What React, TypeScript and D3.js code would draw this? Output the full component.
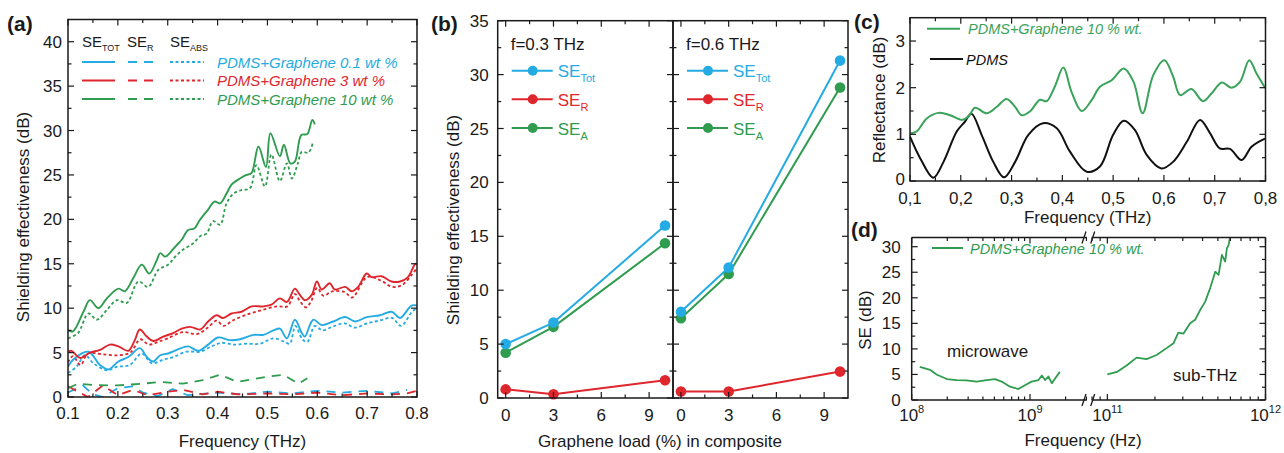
import React, { useEffect, useRef } from "react";
import * as d3 from "d3";

const W = 1284;
const H = 453;
const FONT = "'Liberation Sans', Arial, sans-serif";
const BLUE = "#25abe3";
const RED = "#e0262d";
const GREEN = "#2f9c4f";
const INK = "#1a1a1a";

// ---- panel (a): SE vs frequency (THz), [f, dB]
const aBlueTot = [[0.1,3.4],[0.11,4.2],[0.141,5.1],[0.164,3.6],[0.181,3.1],[0.201,4.0],[0.221,4.5],[0.244,5.5],[0.258,4.5],[0.271,4.0],[0.285,4.7],[0.301,4.9],[0.318,5.3],[0.341,5.7],[0.361,5.2],[0.381,5.9],[0.401,6.7],[0.425,6.4],[0.445,6.5],[0.472,7.0],[0.492,7.0],[0.512,7.5],[0.525,7.7],[0.539,6.6],[0.555,8.7],[0.569,7.2],[0.575,6.8],[0.592,8.7],[0.609,8.1],[0.632,8.5],[0.656,9.0],[0.676,8.5],[0.699,9.0],[0.726,9.2],[0.749,9.6],[0.766,8.9],[0.789,10.3],[0.8,10.3]];
const aBlueR = [[0.1,0.5],[0.13,1.3],[0.15,0.3],[0.17,0.0],[0.2,1.0],[0.23,1.2],[0.25,0.5],[0.28,0.1],[0.31,0.9],[0.34,0.2],[0.4,0.5],[0.45,0.3],[0.5,0.6],[0.55,0.4],[0.6,0.7],[0.65,0.5],[0.7,0.7],[0.75,0.4],[0.78,0.8]];
const aBlueAbs = [[0.1,2.7],[0.117,3.4],[0.134,4.7],[0.151,3.8],[0.178,3.0],[0.198,3.4],[0.224,3.6],[0.248,4.9],[0.268,3.8],[0.291,4.2],[0.311,4.5],[0.338,5.1],[0.365,5.1],[0.388,5.7],[0.408,6.1],[0.432,5.9],[0.458,6.0],[0.485,6.0],[0.512,6.6],[0.535,6.2],[0.545,6.0],[0.556,8.0],[0.57,6.5],[0.58,6.2],[0.595,8.0],[0.61,7.5],[0.63,7.9],[0.655,8.3],[0.675,7.8],[0.7,8.3],[0.725,8.6],[0.75,8.9],[0.768,8.0],[0.79,9.6],[0.8,10.0]];

const aRedTot = [[0.1,5.1],[0.107,5.2],[0.124,4.4],[0.144,5.0],[0.164,5.3],[0.184,5.9],[0.201,5.7],[0.221,5.2],[0.234,6.4],[0.244,7.6],[0.258,6.8],[0.271,6.3],[0.291,6.8],[0.311,7.2],[0.328,7.7],[0.345,7.9],[0.365,7.6],[0.381,8.5],[0.398,9.2],[0.411,8.9],[0.428,9.4],[0.448,9.6],[0.468,10.2],[0.492,10.2],[0.508,10.4],[0.525,11.1],[0.539,10.7],[0.555,12.2],[0.565,11.5],[0.575,10.9],[0.589,11.5],[0.599,13.0],[0.609,12.1],[0.625,12.8],[0.635,12.1],[0.656,12.4],[0.669,11.9],[0.682,12.4],[0.699,13.9],[0.709,13.5],[0.729,13.6],[0.749,13.0],[0.766,13.0],[0.782,13.5],[0.797,15.0],[0.8,14.9]];
const aRedR = [[0.1,1.2],[0.12,0.6],[0.14,0.0],[0.17,1.3],[0.2,0.2],[0.23,0.8],[0.26,0.2],[0.3,0.6],[0.33,0.8],[0.37,0.3],[0.4,0.6],[0.44,0.3],[0.5,0.4],[0.55,0.3],[0.6,0.5],[0.65,0.2],[0.7,0.4],[0.75,0.3],[0.78,0.4],[0.8,0.7]];
const aRedAbs = [[0.1,3.9],[0.11,4.6],[0.125,3.6],[0.14,4.9],[0.17,4.8],[0.2,4.7],[0.225,5.0],[0.245,6.5],[0.262,5.9],[0.28,6.2],[0.3,6.6],[0.33,7.3],[0.36,7.1],[0.38,7.8],[0.398,8.6],[0.412,8.0],[0.43,8.6],[0.46,9.3],[0.49,9.8],[0.52,10.2],[0.54,10.2],[0.555,11.6],[0.565,10.8],[0.577,10.1],[0.587,10.7],[0.6,12.3],[0.612,11.4],[0.63,11.9],[0.655,11.8],[0.67,11.2],[0.7,13.5],[0.728,13.1],[0.75,12.4],[0.77,12.6],[0.79,13.8],[0.8,14.5]];

const aGreenTot = [[0.1,7.5],[0.11,7.4],[0.131,9.6],[0.144,10.9],[0.161,10.0],[0.178,11.1],[0.201,12.2],[0.214,11.9],[0.231,13.4],[0.248,14.9],[0.263,13.9],[0.278,15.4],[0.285,16.2],[0.295,15.8],[0.304,16.2],[0.318,17.1],[0.328,17.7],[0.341,18.8],[0.354,19.0],[0.364,19.9],[0.381,21.1],[0.394,22.0],[0.405,21.8],[0.418,22.9],[0.428,23.9],[0.445,24.6],[0.458,25.0],[0.468,25.2],[0.482,28.2],[0.497,25.9],[0.506,29.7],[0.525,27.1],[0.533,28.4],[0.546,26.3],[0.555,26.5],[0.568,29.5],[0.58,29.6],[0.59,31.2],[0.595,30.7]];
const aGreenR = [[0.1,1.0],[0.12,1.5],[0.15,1.35],[0.2,1.3],[0.25,1.5],[0.285,1.7],[0.33,1.5],[0.37,1.9],[0.405,2.5],[0.44,1.7],[0.5,2.3],[0.532,2.5],[0.562,1.5],[0.58,2.1]];
const aGreenAbs = [[0.1,6.6],[0.12,7.2],[0.141,9.4],[0.158,8.7],[0.178,9.8],[0.198,10.9],[0.218,10.6],[0.241,13.0],[0.261,12.4],[0.281,14.3],[0.301,14.9],[0.315,15.8],[0.331,16.6],[0.351,17.3],[0.365,18.1],[0.378,18.4],[0.391,19.8],[0.405,19.4],[0.418,21.8],[0.432,22.9],[0.448,23.3],[0.465,23.5],[0.478,26.1],[0.495,23.7],[0.508,27.3],[0.525,24.3],[0.539,26.3],[0.549,24.6],[0.561,26.3],[0.569,27.6],[0.582,27.5],[0.592,28.8]];

const aLegend = ["PDMS+Graphene 0.1 wt %", "PDMS+Graphene 3 wt %", "PDMS+Graphene 10 wt %"];

// ---- panel (b): SE at fixed frequency vs graphene load
const loads = [0, 3, 10];
const b03Tot = [5.0, 7.0, 16.0];
const b03R = [0.8, 0.35, 1.65];
const b03A = [4.2, 6.6, 14.35];
const b06Tot = [8.0, 12.1, 31.3];
const b06R = [0.6, 0.6, 2.45];
const b06A = [7.4, 11.5, 28.8];

// ---- panel (c): reflectance
const cGraphene = [[0.1,1.02],[0.113,1.06],[0.133,1.34],[0.156,1.46],[0.179,1.41],[0.202,1.31],[0.215,1.38],[0.228,1.57],[0.251,1.45],[0.271,1.59],[0.29,1.76],[0.307,1.59],[0.32,1.41],[0.336,1.49],[0.356,1.74],[0.369,1.71],[0.385,2.02],[0.402,2.43],[0.418,1.91],[0.438,1.5],[0.458,1.74],[0.474,2.02],[0.497,2.16],[0.521,2.41],[0.54,2.13],[0.558,1.45],[0.579,2.27],[0.601,2.59],[0.618,2.24],[0.632,1.84],[0.654,1.97],[0.677,1.71],[0.694,1.88],[0.714,2.11],[0.733,2.0],[0.75,2.13],[0.768,2.59],[0.782,2.31],[0.799,2.0]];
const cPdms = [[0.1,0.95],[0.12,0.49],[0.146,0.07],[0.166,0.41],[0.192,1.06],[0.208,1.27],[0.221,1.44],[0.241,0.99],[0.264,0.41],[0.285,0.08],[0.307,0.41],[0.333,0.99],[0.362,1.24],[0.389,1.13],[0.415,0.63],[0.448,0.2],[0.474,0.31],[0.5,0.99],[0.521,1.29],[0.543,1.09],[0.566,0.56],[0.595,0.27],[0.618,0.41],[0.645,0.84],[0.671,1.31],[0.691,1.02],[0.71,0.7],[0.73,0.69],[0.753,0.45],[0.773,0.74],[0.799,0.91]];

// ---- panel (d): SE over microwave and sub-THz (Hz, dB)
const dMicrowave = [[1.17e8,6.5],[1.43e8,5.9],[1.62e8,5.0],[1.98e8,4.1],[2.4e8,3.9],[2.9e8,3.85],[3.54e8,3.6],[4.3e8,3.9],[5.06e8,4.1],[5.76e8,3.6],[6.78e8,2.6],[7.97e8,2.15],[9.07e8,2.9],[1.03e9,3.6],[1.18e9,3.9],[1.26e9,4.8],[1.34e9,3.9],[1.43e9,4.6],[1.53e9,3.3],[1.63e9,4.2],[1.79e9,5.5]];
const dSubTHz = [[1e11,5.0],[1.15e11,5.5],[1.33e11,6.8],[1.53e11,8.3],[1.77e11,8.0],[2.05e11,8.8],[2.38e11,10.2],[2.62e11,11.1],[2.81e11,13.2],[3.03e11,13.0],[3.34e11,15.0],[3.59e11,15.7],[3.86e11,17.6],[4.15e11,19.2],[4.47e11,21.9],[4.81e11,25.1],[5.05e11,24.5],[5.3e11,28.4],[5.56e11,27.1],[5.7e11,29.7],[5.84e11,30.3],[5.98e11,32.0]];

type Box = { l: number; r: number; t: number; b: number };

const App = () => {
  const ref = useRef<SVGSVGElement>(null);

  useEffect(() => {
    drawChart();
  }, []);

  const drawChart = () => {
    const svg = d3.select(ref.current);
    svg.selectAll("*").remove();
    svg.style("font-family", FONT);

    const seg = (g: any, x1: number, y1: number, x2: number, y2: number, w = 1.3) =>
      g.append("line").attr("x1", x1).attr("y1", y1).attr("x2", x2).attr("y2", y2)
        .attr("stroke", INK).attr("stroke-width", w);

    const text = (g: any, x: number, y: number, s: string, size = 17, anchor = "start") =>
      g.append("text").attr("x", x).attr("y", y).attr("font-size", size)
        .attr("text-anchor", anchor).attr("fill", INK).text(s);

    // inward ticks on all four sides
    const ticks = (g: any, box: Box, xs: number[], ys: number[], len: number) => {
      xs.forEach((px) => { seg(g, px, box.b, px, box.b - len, 1.2); seg(g, px, box.t, px, box.t + len, 1.2); });
      ys.forEach((py) => { seg(g, box.l, py, box.l + len, py, 1.2); seg(g, box.r, py, box.r - len, py, 1.2); });
    };

    const frame = (g: any, box: Box) =>
      g.append("rect").attr("x", box.l).attr("y", box.t).attr("width", box.r - box.l)
        .attr("height", box.b - box.t).attr("fill", "none").attr("stroke", INK).attr("stroke-width", 1.5);

    const yTitle = (g: any, x: number, y: number, s: string, size = 17) =>
      g.append("text").attr("transform", `translate(${x},${y}) rotate(-90)`)
        .attr("text-anchor", "middle").attr("font-size", size).attr("fill", INK).text(s);

    const panelTag = (x: number, y: number, s: string) =>
      svg.append("text").attr("x", x).attr("y", y).attr("font-size", 21)
        .attr("font-weight", "bold").attr("fill", INK).text(s);

    const curve = (g: any, x: any, y: any, pts: number[][], color: string, dash: string | null, width = 1.8, smooth = true) => {
      const line = d3.line<number[]>().x((d) => x(d[0])).y((d) => y(d[1]));
      if (smooth) line.curve(d3.curveCatmullRom.alpha(0.5));
      g.append("path").attr("d", line(pts)).attr("fill", "none").attr("stroke", color)
        .attr("stroke-width", width).attr("stroke-dasharray", dash).attr("stroke-linejoin", "round");
    };

    // ================= (a)
    {
      const box = { l: 68, r: 417, t: 19.5, b: 397 };
      const x = d3.scaleLinear().domain([0.1, 0.8]).range([box.l, box.r]);
      const y = d3.scaleLinear().domain([0, 42.5]).range([box.b, box.t]);
      const g = svg.append("g");
      const clipId = "clipA";
      svg.append("clipPath").attr("id", clipId).append("rect")
        .attr("x", box.l).attr("y", box.t).attr("width", box.r - box.l).attr("height", box.b - box.t);
      const data = g.append("g").attr("clip-path", `url(#${clipId})`);

      const dashR = "9,7";
      const dotA = "3,2.5";
      [[aBlueR, BLUE], [aRedR, RED], [aGreenR, GREEN]].forEach(([pts, c]: any) => curve(data, x, y, pts, c, dashR, 1.8, false));
      [[aBlueAbs, BLUE], [aRedAbs, RED], [aGreenAbs, GREEN]].forEach(([pts, c]: any) => curve(data, x, y, pts, c, dotA, 1.8));
      [[aBlueTot, BLUE], [aRedTot, RED], [aGreenTot, GREEN]].forEach(([pts, c]: any) => curve(data, x, y, pts, c, null, 1.9));

      frame(g, box);
      const xMaj = d3.range(0.1, 0.8001, 0.1);
      const xMin = d3.range(0.15, 0.8, 0.1);
      const yMaj = d3.range(0, 41, 5);
      const yMin = d3.range(2.5, 42.5, 5);
      ticks(g, box, xMaj.map(x), yMaj.map(y), 6);
      ticks(g, box, xMin.map(x), yMin.map(y), 3.5);
      xMaj.forEach((v) => text(g, x(v), box.b + 22, d3.format(".1f")(v), 17, "middle"));
      yMaj.forEach((v) => text(g, box.l - 6, y(v) + 6, String(v), 17, "end"));
      text(g, (box.l + box.r) / 2, 447, "Frequency (THz)", 17, "middle");
      yTitle(g, 29, 217, "Shielding effectiveness (dB)");

      // legend
      const head = [["SE", "TOT", 82], ["SE", "R", 127], ["SE", "ABS", 170]];
      head.forEach(([a, b, px]: any) => {
        const t = g.append("text").attr("x", px).attr("y", 47).attr("font-size", 15).attr("fill", INK);
        t.append("tspan").text(a);
        t.append("tspan").attr("font-size", 9).attr("dy", 4).text(b);
      });
      const legendCols = [BLUE, RED, GREEN];
      legendCols.forEach((c, i) => {
        const ly = 62 + i * 18.5;
        seg(g, 82, ly, 115, ly, 1.9).attr("stroke", c);
        seg(g, 128, ly, 155, ly, 1.8).attr("stroke", c).attr("stroke-dasharray", dashR);
        seg(g, 170, ly, 204, ly, 1.8).attr("stroke", c).attr("stroke-dasharray", dotA);
        g.append("text").attr("x", 217).attr("y", ly + 5.5).attr("font-size", 15)
          .attr("font-style", "italic").attr("fill", c).text(aLegend[i]);
      });
    }
    panelTag(7, 31, "(a)");

    // ================= (b)
    {
      const g = svg.append("g");
      const y = d3.scaleLinear().domain([0, 35]).range([398, 20.7]);
      const sub = [
        { box: { l: 497.7, r: 673, t: 20.7, b: 398 }, f: "f=0.3 THz", tot: b03Tot, r: b03R, a: b03A },
        { box: { l: 673, r: 848, t: 20.7, b: 398 }, f: "f=0.6 THz", tot: b06Tot, r: b06R, a: b06A },
      ];
      sub.forEach((s, k) => {
        const box = s.box;
        const x = d3.scaleLinear().domain([-0.5, 10.5]).range([box.l, box.r]);
        const series: [number[], string][] = [[s.r, RED], [s.a, GREEN], [s.tot, BLUE]];
        series.forEach(([vals, c]) => {
          const pts = loads.map((l, i) => [l, vals[i]]);
          curve(g, x, y, pts, c, null, 2, false);
          g.selectAll(null).data(pts).enter().append("circle")
            .attr("cx", (d: number[]) => x(d[0])).attr("cy", (d: number[]) => y(d[1]))
            .attr("r", 5.3).attr("fill", c);
        });
        frame(g, box);
        const xMaj = [0, 3, 6, 9];
        const xMin = [1.5, 4.5, 7.5];
        ticks(g, box, xMaj.map(x), d3.range(0, 36, 5).map(y), 6);
        ticks(g, box, xMin.map(x), d3.range(2.5, 35, 5).map(y), 3.5);
        xMaj.forEach((v) => text(g, x(v), 421, String(v), 17, "middle"));
        if (k === 0) d3.range(0, 36, 5).forEach((v) => text(g, box.l - 9, y(v) + 6, String(v), 17, "end"));

        text(g, box.l + 13, 50, s.f, 17);
        const legend: [string, string, number][] = [["Tot", BLUE, 70.7], ["R", RED, 99.3], ["A", GREEN, 128]];
        legend.forEach(([sb, c, ly]) => {
          seg(g, box.l + 14, ly, box.l + 55, ly, 2).attr("stroke", c);
          g.append("circle").attr("cx", box.l + 35).attr("cy", ly).attr("r", 5).attr("fill", c);
          const t = g.append("text").attr("x", box.l + 60).attr("y", ly + 6.5).attr("font-size", 17).attr("fill", c);
          t.append("tspan").text("SE");
          t.append("tspan").attr("font-size", 11).attr("dy", 5).text(sb);
        });
      });
      yTitle(g, 459, 220, "Shielding effectiveness (dB)");
      text(g, 660, 447, "Graphene load (%) in composite", 17, "middle");
    }
    panelTag(431, 31, "(b)");

    // ================= (c)
    {
      const box = { l: 910, r: 1265.5, t: 17.7, b: 181 };
      const x = d3.scaleLinear().domain([0.1, 0.8]).range([box.l, box.r]);
      const y = d3.scaleLinear().domain([0, 3.5]).range([box.b, box.t]);
      const g = svg.append("g");
      curve(g, x, y, cPdms, "#111", null, 2);
      curve(g, x, y, cGraphene, "#3aa35a", null, 2);
      frame(g, box);
      const xMaj = d3.range(0.1, 0.8001, 0.1);
      const xMin = d3.range(0.15, 0.8, 0.1);
      ticks(g, box, xMaj.map(x), [0, 1, 2, 3].map(y), 6);
      ticks(g, box, xMin.map(x), [0.5, 1.5, 2.5].map(y), 3.5);
      xMaj.forEach((v) => text(g, x(v), 204, d3.format(".1f")(v).replace(".", ","), 17, "middle"));
      [0, 1, 2, 3].forEach((v) => text(g, box.l - 5, y(v) + (v === 0 ? 4 : 6), String(v), 17, "end"));
      text(g, (box.l + box.r) / 2, 223, "Frequency (THz)", 17, "middle");
      yTitle(g, 885, 100, "Reflectance (dB)");
      seg(g, 927, 28.7, 960, 28.7, 2).attr("stroke", "#3aa35a");
      g.append("text").attr("x", 968).attr("y", 34).attr("font-size", 14.5).attr("font-style", "italic")
        .attr("fill", "#3aa35a").text("PDMS+Graphene 10 % wt.");
      seg(g, 930, 59, 963, 59, 2).attr("stroke", "#111");
      g.append("text").attr("x", 966).attr("y", 64.5).attr("font-size", 14.5).attr("font-style", "italic")
        .attr("fill", "#111").text("PDMS");
    }
    panelTag(854, 29, "(c)");

    // ================= (d)
    {
      const box = { l: 911.7, r: 1265.5, t: 237.5, b: 400 };
      const brkL = 1087;
      const brkR = 1091.7;
      const xl = d3.scaleLog().domain([1e8, Math.pow(10, 9.482)]).range([box.l, brkL]);
      const xr = d3.scaleLog().domain([Math.pow(10, 10.901), 1e12]).range([brkR, box.r]);
      const y = d3.scaleLinear().domain([0, 31.8]).range([box.b, box.t]);
      const g = svg.append("g");
      svg.append("clipPath").attr("id", "clipD").append("rect")
        .attr("x", box.l).attr("y", box.t).attr("width", box.r - box.l).attr("height", box.b - box.t);
      const data = g.append("g").attr("clip-path", "url(#clipD)");
      curve(data, xl, y, dMicrowave, GREEN, null, 1.8, false);
      curve(data, xr, y, dSubTHz, GREEN, null, 1.8, false);

      // broken frame
      seg(g, box.l, box.t, box.l, box.b, 1.5);
      seg(g, box.r, box.t, box.r, box.b, 1.5);
      [box.t, box.b].forEach((yy) => {
        seg(g, box.l, yy, brkL, yy, 1.5);
        seg(g, brkR, yy, box.r, yy, 1.5);
        seg(g, brkL - 5, yy + 6, brkL - 1, yy - 6, 1.3);
        seg(g, brkR - 1, yy + 6, brkR + 3, yy - 6, 1.3);
      });

      const minorL: number[] = [];
      const minorR: number[] = [];
      [8, 9].forEach((d) => d3.range(2, 10).forEach((k) => {
        const v = k * Math.pow(10, d);
        if (v < xl.domain()[1]) minorL.push(xl(v));
      }));
      [10, 11].forEach((d) => d3.range(2, 10).forEach((k) => {
        const v = k * Math.pow(10, d);
        if (v > xr.domain()[0] && v < 1e12) minorR.push(xr(v));
      }));
      const majL = [1e8, 1e9].map(xl);
      const majR = [1e11, 1e12].map(xr);
      const yMaj = d3.range(0, 31, 5);
      const yMin = d3.range(2.5, 31, 5);
      ticks(g, box, [...majL, ...majR], yMaj.map(y), 6);
      ticks(g, box, [...minorL, ...minorR], yMin.map(y), 3.5);

      const expLabels: [number, string][] = [[majL[0], "8"], [majL[1], "9"], [majR[0], "11"], [majR[1], "12"]];
      expLabels.forEach(([px, e]) => {
        const t = g.append("text").attr("x", px).attr("y", 421).attr("font-size", 17)
          .attr("text-anchor", "middle").attr("fill", INK);
        t.append("tspan").text("10");
        t.append("tspan").attr("font-size", 11).attr("dy", -8).text(e);
      });
      yMaj.forEach((v) => text(g, box.l - 11, y(v) + 6, String(v), 17, "end"));
      text(g, 1083, 446, "Frequency (Hz)", 17, "middle");
      yTitle(g, 871, 320, "SE (dB)");
      text(g, 947, 357, "microwave", 17);
      text(g, 1173, 381, "sub-THz", 17);
      seg(g, 932, 248, 963, 248, 2).attr("stroke", GREEN);
      g.append("text").attr("x", 970).attr("y", 253.5).attr("font-size", 14.5).attr("font-style", "italic")
        .attr("fill", GREEN).text("PDMS+Graphene 10 % wt.");
    }
    panelTag(851, 237, "(d)");
  };

  return (
    <svg ref={ref} width={W} height={H}
      style={{ position: "absolute", left: 0, top: 0, background: "white" }}></svg>
  );
};

export default App;
